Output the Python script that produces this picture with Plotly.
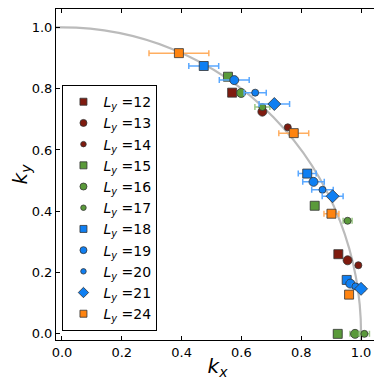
import plotly.graph_objects as go

# data: (kx, ky, xerr) per system width Ly
ly_labels = ["12", "13", "14", "15", "16", "17", "18", "19", "20", "21", "24"]

kx_12 = [0.569, 0.924]
ky_12 = [0.787, 0.260]
ex_12 = [0.0, 0.0]

kx_13 = [0.670, 0.955]
ky_13 = [0.725, 0.240]
ex_13 = [0.0, 0.0]

kx_14 = [0.755, 0.991]
ky_14 = [0.674, 0.224]
ex_14 = [0.0, 0.0]

kx_15 = [0.555, 0.845, 0.922]
ky_15 = [0.839, 0.418, 0.0]
ex_15 = [0.006, 0.012, 0.013]

kx_16 = [0.599, 0.980]
ky_16 = [0.786, 0.0]
ex_16 = [0.008, 0.017]

kx_17 = [0.670, 0.955, 1.011]
ky_17 = [0.740, 0.369, 0.0]
ex_17 = [0.025, 0.015, 0.017]

kx_18 = [0.474, 0.820, 0.952]
ky_18 = [0.874, 0.523, 0.176]
ex_18 = [0.050, 0.030, 0.010]

kx_19 = [0.576, 0.841, 0.964]
ky_19 = [0.828, 0.496, 0.164]
ex_19 = [0.050, 0.036, 0.012]

kx_20 = [0.646, 0.871, 0.981]
ky_20 = [0.787, 0.470, 0.155]
ex_20 = [0.037, 0.036, 0.010]

kx_21 = [0.710, 0.905, 1.000]
ky_21 = [0.750, 0.449, 0.147]
ex_21 = [0.051, 0.035, 0.012]

kx_24 = [0.391, 0.775, 0.901, 0.960]
ky_24 = [0.916, 0.655, 0.392, 0.128]
ex_24 = [0.100, 0.050, 0.025, 0.010]

tick_vals = [0.0, 0.2, 0.4, 0.6, 0.8, 1.0]

series = [
    (kx_12, ky_12, ex_12), (kx_13, ky_13, ex_13), (kx_14, ky_14, ex_14),
    (kx_15, ky_15, ex_15), (kx_16, ky_16, ex_16), (kx_17, ky_17, ex_17),
    (kx_18, ky_18, ex_18), (kx_19, ky_19, ex_19), (kx_20, ky_20, ex_20),
    (kx_21, ky_21, ex_21), (kx_24, ky_24, ex_24),
]

red, green, blue, orange = "#7f1b0f", "#5a9a3a", "#0f7ff2", "#ff8410"
red_e, green_e, blue_e, orange_e = "#b05a50", "#9cc886", "#5aa8ff", "#ffae60"
colors = [red, red, red, green, green, green, blue, blue, blue, blue, orange]
err_colors = [red_e, red_e, red_e, green_e, green_e, green_e, blue_e, blue_e, blue_e, blue_e, orange_e]
symbols = ["square", "circle", "circle", "square", "circle", "circle",
           "square", "circle", "circle", "diamond", "square"]
sizes = [9, 9, 7, 9, 9, 7, 9, 9, 7, 10, 9]
legend_sizes = [7, 7, 5.5, 7, 7, 5.5, 7, 7, 5.5, 8, 7]

fig = go.Figure()

for lab, (xs, ys, ex), c, ec, sym, sz, lsz in zip(ly_labels, series, colors, err_colors,
                                                  symbols, sizes, legend_sizes):
    # points with x error bars
    fig.add_trace(go.Scatter(
        x=xs, y=ys, mode="markers", showlegend=False,
        marker=dict(color=c, symbol=sym, size=sz, line=dict(color="#333333", width=0.8)),
        error_x=dict(type="data", array=ex, color=ec, thickness=1.5, width=3),
    ))
    # smaller marker for the legend entry
    fig.add_trace(go.Scatter(
        x=[None], y=[None], mode="markers",
        name="<i>L</i><sub><i>y</i></sub> =" + lab,
        marker=dict(color=c, symbol=sym, size=lsz, line=dict(color="#333333", width=0.8)),
    ))

# unit circle kx^2 + ky^2 = 1
fig.add_shape(type="circle", xref="x", yref="y", x0=-1, y0=-1, x1=1, y1=1,
              line=dict(color="#bbbbbb", width=2.2), layer="below")

axis_style = dict(
    range=[-0.02, 1.06], tickvals=tick_vals, ticktext=["%.1f" % v for v in tick_vals],
    ticks="inside", ticklen=4, tickcolor="black", showline=True, linecolor="black",
    linewidth=1, mirror="allticks", showgrid=False, zeroline=False, automargin=False,
    tickfont=dict(size=13, color="black", family="DejaVu Sans"),
)

# page body has an 8px margin, so the figure is 8px smaller than the window
fig.update_layout(
    width=374, height=374,
    margin=dict(l=48, r=3, t=1, b=42),
    plot_bgcolor="white", paper_bgcolor="white",
    font=dict(family="DejaVu Sans", color="black"),
    xaxis=dict(axis_style, title=dict(text="<i>k</i><sub><i>x</i></sub>", font=dict(size=20), standoff=0)),
    yaxis=dict(axis_style, title=dict(text="<i>k</i><sub><i>y</i></sub>", font=dict(size=20), standoff=6)),
    legend=dict(x=0.02, y=0.77, xanchor="left", yanchor="top",
                bgcolor="white", bordercolor="black", borderwidth=1,
                font=dict(size=14), tracegroupgap=0, itemwidth=30),
    showlegend=True,
)

fig.write_html("out.html")
